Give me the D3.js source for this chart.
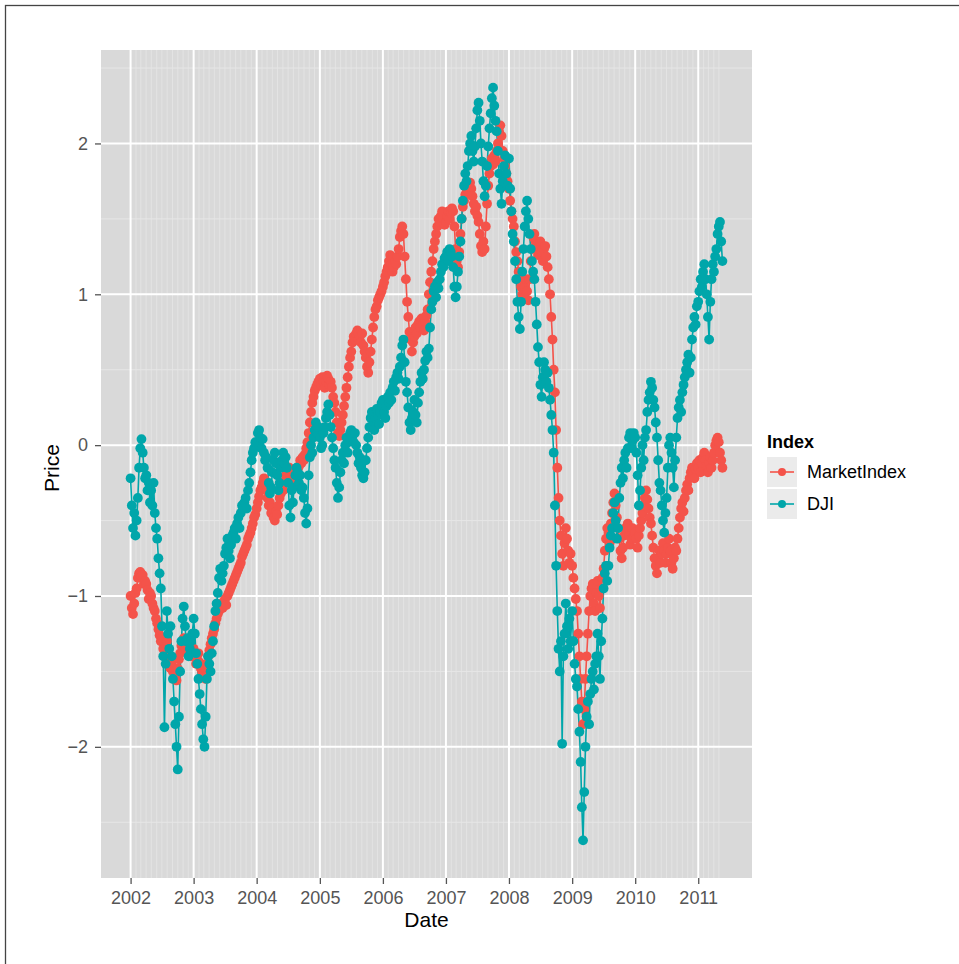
<!DOCTYPE html>
<html><head><meta charset="utf-8">
<script src="https://cdn.jsdelivr.net/npm/d3@7"></script>
<style>
body{margin:0;background:#fff}
text{font-family:"Liberation Sans",Arial,Helvetica,sans-serif}
</style>
</head><body>
<svg id="chart" width="959" height="964"></svg>
<script>
// ---- data: weekly readings; each year has 52 weeks starting Jan 1 (2011 runs to late May) ----
const seriesNames = ["MarketIndex", "DJI"];
const seriesColors = ["#F4534A", "#00A6AA"];
const yTickValues = [-2, -1, 0, 1, 2];
const xTickYears = [2002, 2003, 2004, 2005, 2006, 2007, 2008, 2009, 2010, 2011];
const firstYear = 2002;
const weeksPerYear = 52;

const marketIndex = [
  // 2002
  -1.00,-1.08,-1.12,-1.05, -0.98,-0.95,-0.88,-0.85, -0.84,-0.87,-0.86,-0.92,-0.90,
  -0.92,-0.96,-1.02,-0.98, -1.00,-1.05,-1.08,-1.10, -1.15,-1.18,-1.22,-1.26,-1.30,
  -1.28,-1.35,-1.40,-1.32, -1.30,-1.36,-1.42,-1.48, -1.45,-1.50,-1.55,-1.52,-1.56,
  -1.48,-1.42,-1.38,-1.33, -1.30,-1.28,-1.34,-1.36, -1.32,-1.38,-1.36,-1.40,-1.35,
  // 2003
  -1.35,-1.40,-1.45,-1.42, -1.38,-1.44,-1.48,-1.50, -1.52,-1.48,-1.55,-1.45,-1.40,
  -1.36,-1.32,-1.28,-1.25, -1.22,-1.18,-1.15,-1.12, -1.10,-1.08,-1.05,-1.08,-1.04,
  -1.02,-1.06,-1.00,-0.98, -0.96,-0.94,-0.92,-0.90, -0.88,-0.86,-0.84,-0.82,-0.80,
  -0.78,-0.74,-0.72,-0.70, -0.68,-0.66,-0.62,-0.60, -0.58,-0.55,-0.52,-0.48,-0.46,
  // 2004
  -0.42,-0.38,-0.34,-0.30, -0.28,-0.25,-0.22,-0.26, -0.30,-0.35,-0.40,-0.38,-0.45,
  -0.42,-0.48,-0.50,-0.44, -0.46,-0.40,-0.35,-0.32, -0.28,-0.30,-0.24,-0.20,-0.22,
  -0.18,-0.15,-0.20,-0.24, -0.26,-0.20,-0.18,-0.22, -0.16,-0.14,-0.10,-0.12,-0.08,
  -0.10,-0.06,-0.02,0.02, 0.08,0.15,0.22,0.28, 0.32,0.36,0.38,0.40,0.42,
  // 2005
  0.44,0.40,0.45,0.42, 0.38,0.42,0.46,0.44, 0.40,0.42,0.38,0.32,0.28,
  0.22,0.15,0.08,0.06, 0.10,0.15,0.20,0.26, 0.32,0.38,0.45,0.52,0.58,
  0.62,0.68,0.72,0.70, 0.74,0.76,0.70,0.72, 0.68,0.74,0.66,0.62,0.58,
  0.52,0.48,0.55,0.62, 0.70,0.78,0.85,0.90, 0.92,0.96,0.98,1.00,1.02,
  // 2006
  1.05,1.08,1.12,1.15, 1.18,1.22,1.26,1.20, 1.15,1.18,1.22,1.20,1.25,
  1.30,1.38,1.42,1.45, 1.40,1.25,1.10,0.95, 0.85,0.75,0.70,0.62,0.68,
  0.72,0.78,0.74,0.80, 0.82,0.78,0.84,0.80, 0.76,0.82,0.86,0.90,1.00,
  1.08,1.15,1.22,1.30, 1.35,1.40,1.45,1.50, 1.48,1.52,1.55,1.50,1.46,
  // 2007
  1.48,1.52,1.55,1.50, 1.54,1.57,1.55,1.45, 1.30,1.22,1.18,1.28,1.40,
  1.50,1.58,1.62,1.66, 1.70,1.72,1.68,1.74, 1.70,1.65,1.60,1.55,1.58,
  1.52,1.48,1.40,1.32, 1.28,1.35,1.30,1.45, 1.60,1.72,1.80,1.85,1.90,
  1.86,1.92,1.88,1.95, 2.00,2.08,2.12,2.05, 1.95,1.90,1.85,1.80,1.75,
  // 2008
  1.70,1.62,1.55,1.50, 1.45,1.35,1.28,1.22, 1.15,1.10,1.05,1.00,0.98,
  1.05,1.10,1.02,0.96, 1.10,1.22,1.30,1.38, 1.40,1.35,1.30,1.26,1.32,
  1.35,1.28,1.22,1.30, 1.32,1.25,1.18,1.10, 1.00,0.85,0.70,0.50,0.35,
  0.10,-0.15,-0.35,-0.50, -0.60,-0.72,-0.80,-0.65, -0.55,-0.62,-0.70,-0.78,-0.72,
  // 2009
  -0.80,-0.88,-0.95,-1.02, -1.10,-1.25,-1.40,-1.55, -1.70,-1.85,-1.75,-1.55,-1.40,
  -1.25,-1.10,-1.00,-0.95, -0.92,-1.05,-1.10,-0.98, -0.90,-1.00,-1.08,-0.95,-0.88,
  -0.82,-0.70,-0.62,-0.55, -0.58,-0.65,-0.52,-0.45, -0.38,-0.32,-0.40,-0.48,-0.55,
  -0.62,-0.70,-0.75,-0.68, -0.60,-0.55,-0.58,-0.52, -0.60,-0.66,-0.62,-0.55,-0.60,
  // 2010
  -0.58,-0.62,-0.68,-0.60, -0.55,-0.50,-0.45,-0.40, -0.35,-0.30,-0.36,-0.42,-0.48,
  -0.52,-0.60,-0.68,-0.75, -0.80,-0.85,-0.75,-0.70, -0.78,-0.72,-0.65,-0.70,-0.78,
  -0.72,-0.68,-0.62,-0.70, -0.78,-0.82,-0.75,-0.68, -0.70,-0.62,-0.55,-0.48,-0.42,
  -0.38,-0.44,-0.35,-0.30, -0.26,-0.30,-0.22,-0.18, -0.15,-0.20,-0.22,-0.16,-0.12,
  // 2011
  -0.15,-0.10,-0.18,-0.12, -0.08,-0.05,-0.10,-0.14, -0.18,-0.12,-0.08,-0.15,-0.10,
  -0.05,0.00,0.03,0.05, 0.02,-0.05,-0.10,-0.15
];

const dji = [
  // 2002
  -0.22,-0.40,-0.55,-0.45, -0.60,-0.50,-0.35,-0.15, -0.02,0.04,-0.05,-0.15,-0.22,
  -0.20,-0.30,-0.25,-0.38, -0.30,-0.40,-0.25,-0.45, -0.55,-0.62,-0.75,-0.85,-0.95,
  -1.20,-1.40,-1.87,-1.45, -1.10,-1.25,-1.35,-1.20, -1.40,-1.55,-1.70,-1.85,-2.00,
  -2.15,-1.80,-1.50,-1.30, -1.15,-1.07,-1.20,-1.30, -1.28,-1.40,-1.35,-1.30,-1.25,
  // 2003
  -1.15,-1.25,-1.38,-1.45, -1.55,-1.65,-1.75,-1.85, -1.95,-2.00,-1.80,-1.55,-1.40,
  -1.45,-1.50,-1.38,-1.30, -1.20,-1.10,-1.05,-0.98, -0.88,-0.82,-0.90,-0.85,-0.80,
  -0.72,-0.68,-0.62,-0.70, -0.75,-0.66,-0.60,-0.58, -0.55,-0.62,-0.52,-0.48,-0.55,
  -0.45,-0.40,-0.42,-0.38, -0.35,-0.42,-0.30,-0.25, -0.18,-0.10,-0.05,-0.02,0.02,
  // 2004
  0.02,0.08,0.10,0.05, -0.02,0.04,-0.05,-0.10, -0.08,-0.15,-0.25,-0.32,-0.28,
  -0.18,-0.10,-0.05,-0.12, -0.20,-0.30,-0.25,-0.15, -0.10,-0.05,-0.12,-0.08,-0.15,
  -0.25,-0.40,-0.48,-0.30, -0.38,-0.28,-0.20,-0.15, -0.18,-0.25,-0.20,-0.30,-0.28,
  -0.35,-0.45,-0.52,-0.42, -0.20,-0.08,0.00,-0.05, 0.05,0.10,0.15,0.08,0.12,
  // 2005
  0.05,-0.02,0.00,0.08, 0.12,0.18,0.22,0.27, 0.20,0.12,0.05,-0.02,-0.10,
  -0.15,-0.25,-0.35,-0.28, -0.18,-0.10,-0.05,-0.12, 0.00,0.05,-0.05,0.02,0.08,
  0.10,0.06,0.02,0.08, 0.00,-0.05,-0.12,-0.08, -0.15,-0.20,-0.22,-0.18,-0.10,
  -0.02,0.05,0.12,0.18, 0.22,0.16,0.10,0.18, 0.24,0.20,0.14,0.22,0.28,
  // 2006
  0.30,0.22,0.18,0.26, 0.32,0.28,0.35,0.30, 0.38,0.42,0.36,0.45,0.48,
  0.44,0.52,0.58,0.66, 0.70,0.55,0.42,0.35, 0.25,0.15,0.10,0.18,0.22,
  0.30,0.20,0.15,0.28, 0.35,0.42,0.48,0.44, 0.50,0.56,0.62,0.58,0.64,
  0.78,0.90,0.95,1.02, 1.05,0.98,1.08,1.04, 1.10,1.15,1.20,1.18,1.24,
  // 2007
  1.25,1.28,1.22,1.30, 1.28,1.25,1.18,1.05, 0.98,1.05,1.15,1.25,1.35,
  1.50,1.62,1.72,1.80, 1.75,1.85,1.95,2.00, 2.05,1.95,1.88,1.98,2.10,
  2.22,2.27,2.15,2.00, 1.88,1.75,1.65,1.72, 1.85,1.98,2.10,2.20,2.30,
  2.37,2.25,2.15,2.08, 1.95,1.80,1.70,1.60, 1.75,1.85,1.92,1.80,1.72,
  // 2008
  1.90,1.70,1.55,1.40, 1.35,1.22,1.10,0.95, 0.85,0.77,0.95,1.15,1.30,
  1.45,1.55,1.62,1.50, 1.40,1.30,1.22,1.15, 1.10,0.95,0.80,0.65,0.55,
  0.40,0.32,0.45,0.55, 0.50,0.42,0.48,0.38, 0.30,0.20,0.10,-0.05,-0.40,
  -0.80,-1.10,-1.35,-1.50, -1.30,-1.98,-1.40,-1.25, -1.05,-1.20,-1.35,-1.15,-1.30,
  // 2009
  -1.10,-1.30,-1.45,-1.55, -1.60,-1.75,-1.90,-2.10, -2.40,-2.62,-2.30,-2.00,-1.80,
  -1.70,-1.85,-1.65,-1.55, -1.50,-1.62,-1.45,-1.40, -1.25,-1.40,-1.55,-1.30,-1.15,
  -0.95,-0.85,-0.80,-0.90, -0.80,-0.68,-0.60,-0.55, -0.45,-0.38,-0.50,-0.62,-0.55,
  -0.35,-0.25,-0.15,-0.22, -0.10,-0.05,-0.15,-0.02, 0.05,0.08,-0.02,0.03,0.08,
  // 2010
  0.05,-0.05,-0.20,-0.40, -0.30,-0.15,0.00,-0.10, 0.05,0.10,0.22,0.30,0.35,
  0.42,0.38,0.30,0.25, 0.15,0.05,-0.10,-0.25, -0.30,-0.40,-0.50,-0.58,-0.45,
  -0.35,-0.15,0.00,0.05, -0.05,-0.15,-0.28,-0.10, 0.05,0.18,0.25,0.30,0.22,
  0.35,0.40,0.45,0.50, 0.55,0.60,0.48,0.58, 0.70,0.78,0.85,0.80,0.92,
  // 2011
  0.95,1.02,1.10,1.05, 1.15,1.20,1.10,1.00, 0.85,0.70,0.95,1.10,1.20,
  1.15,1.25,1.30,1.40, 1.45,1.48,1.35,1.22
];

// ---- build rows ----
function dateAt(i) {
  const year = firstYear + Math.floor(i / weeksPerYear);
  const week = i % weeksPerYear;
  return new Date(year, 0, 1 + 7 * week);
}
const seriesData = [marketIndex, dji].map((vals, s) =>
  vals.map((v, i) => ({ date: dateAt(i), value: v, series: seriesNames[s] })));

// ---- layout ----
const svg = d3.select("#chart");
const panel = { left: 101, top: 50, right: 752, bottom: 878 };

svg.append("rect").attr("x", 5.5).attr("y", 5.5).attr("width", 1000).attr("height", 1000)
  .attr("fill", "none").attr("stroke", "#444").attr("stroke-width", 1.3);

// scales with ggplot-like 5% expansion
const allDates = seriesData.flat().map(d => d.date);
const allVals = seriesData.flat().map(d => d.value);
const dExt = d3.extent(allDates);
const dPad = (dExt[1] - dExt[0]) * 0.05;
const x = d3.scaleTime()
  .domain([new Date(+dExt[0] - dPad), new Date(+dExt[1] + dPad)])
  .range([panel.left, panel.right]);
const vExt = d3.extent(allVals);
const vPad = (vExt[1] - vExt[0]) * 0.05;
const y = d3.scaleLinear().domain([vExt[0] - vPad, vExt[1] + vPad]).range([panel.bottom, panel.top]);

// panel background
svg.append("rect").attr("x", panel.left).attr("y", panel.top)
  .attr("width", panel.right - panel.left).attr("height", panel.bottom - panel.top)
  .attr("fill", "#D9D9D9");

const grid = svg.append("g");
// minor vertical (monthly within data range)
const months = d3.timeMonth.range(new Date(2002, 1, 1), new Date(2011, 5, 1));
grid.selectAll(".mv").data(months.filter(m => m.getMonth() !== 0)).join("line")
  .attr("x1", d => x(d)).attr("x2", d => x(d))
  .attr("y1", panel.top).attr("y2", panel.bottom)
  .attr("stroke", "#E3E3E3").attr("stroke-width", 1);
// minor horizontal
const minorY = d3.range(-2.5, 3, 1).filter(v => y(v) > panel.top && y(v) < panel.bottom);
grid.selectAll(".mh").data(minorY).join("line")
  .attr("x1", panel.left).attr("x2", panel.right)
  .attr("y1", d => y(d)).attr("y2", d => y(d))
  .attr("stroke", "#E6E6E6").attr("stroke-width", 1);
// major grid
const yearDates = xTickYears.map(yr => new Date(yr, 0, 1));
grid.selectAll(".Mv").data(yearDates).join("line")
  .attr("x1", d => x(d)).attr("x2", d => x(d))
  .attr("y1", panel.top).attr("y2", panel.bottom)
  .attr("stroke", "#fff").attr("stroke-width", 2);
grid.selectAll(".Mh").data(yTickValues).join("line")
  .attr("x1", panel.left).attr("x2", panel.right)
  .attr("y1", d => y(d)).attr("y2", d => y(d))
  .attr("stroke", "#fff").attr("stroke-width", 2);

// axes
const xAxis = d3.axisBottom(x).tickValues(yearDates).tickFormat(d3.timeFormat("%Y"))
  .tickSize(6).tickPadding(7);
const gx = svg.append("g").attr("transform", `translate(0,${panel.bottom})`).call(xAxis);
gx.select(".domain").remove();
gx.selectAll(".tick line").attr("stroke", "#555").attr("stroke-width", 1.3);
gx.selectAll(".tick text").attr("fill", "#555").attr("font-size", 18)
  .attr("font-family", "'Liberation Sans',Arial,sans-serif").attr("dy", "0.72em");

const yAxis = d3.axisLeft(y).tickValues(yTickValues).tickFormat(d => d < 0 ? "\u2212" + Math.abs(d) : d)
  .tickSize(6).tickPadding(7);
const gy = svg.append("g").attr("transform", `translate(${panel.left},0)`).call(yAxis);
gy.select(".domain").remove();
gy.selectAll(".tick line").attr("stroke", "#555").attr("stroke-width", 1.3);
gy.selectAll(".tick text").attr("fill", "#555").attr("font-size", 18)
  .attr("font-family", "'Liberation Sans',Arial,sans-serif");

// axis titles
svg.append("text").attr("x", (panel.left + panel.right) / 2).attr("y", 927)
  .attr("text-anchor", "middle").attr("font-size", 21).attr("fill", "#000").text("Date");
svg.append("text").attr("transform", `translate(59,${(panel.top + panel.bottom) / 2 + 4}) rotate(-90)`)
  .attr("text-anchor", "middle").attr("font-size", 21).attr("fill", "#000").text("Price");

// clip
svg.append("clipPath").attr("id", "clip").append("rect")
  .attr("x", panel.left).attr("y", panel.top)
  .attr("width", panel.right - panel.left).attr("height", panel.bottom - panel.top);
const plot = svg.append("g").attr("clip-path", "url(#clip)");

const line = d3.line().x(d => x(d.date)).y(d => y(d.value));
plot.selectAll(".ln").data(seriesData).join("path")
  .attr("d", line).attr("fill", "none")
  .attr("stroke", (d, i) => seriesColors[i]).attr("stroke-width", 1.6);
seriesData.forEach((s, i) => {
  plot.append("g").selectAll("circle").data(s).join("circle")
    .attr("cx", d => x(d.date)).attr("cy", d => y(d.value)).attr("r", 4.9)
    .attr("fill", seriesColors[i]);
});

// legend
const lg = svg.append("g").attr("transform", "translate(767,0)");
lg.append("text").attr("x", 0).attr("y", 448).attr("font-size", 18).attr("font-weight", "bold")
  .attr("fill", "#000").text("Index");
seriesNames.forEach((name, i) => {
  const top = 457 + i * 32;
  lg.append("rect").attr("x", 0).attr("y", top).attr("width", 30).attr("height", 30)
    .attr("fill", "#EBEBEB");
  lg.append("line").attr("x1", 3).attr("x2", 27).attr("y1", top + 15).attr("y2", top + 15)
    .attr("stroke", seriesColors[i]).attr("stroke-width", 1.6);
  lg.append("circle").attr("cx", 15).attr("cy", top + 15).attr("r", 4).attr("fill", seriesColors[i]);
  lg.append("text").attr("x", 40).attr("y", top + 21).attr("font-size", 18).attr("fill", "#000").text(name);
});
</script>
</body></html>
